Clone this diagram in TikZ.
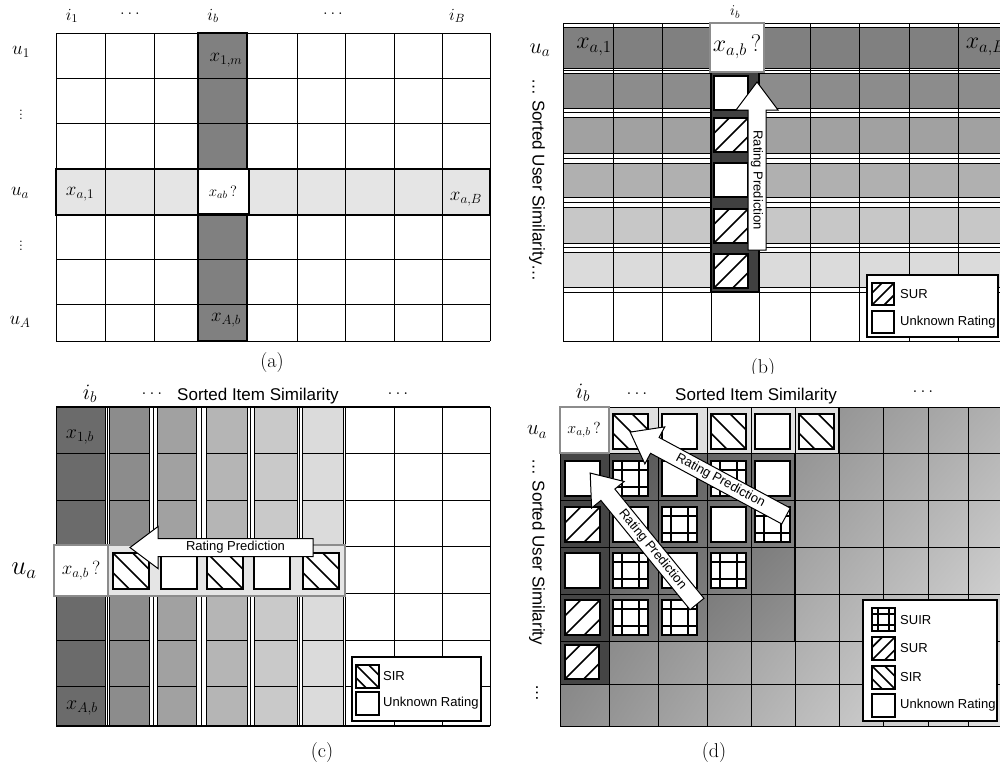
\documentclass[tikz,border=0pt]{standalone}
\usepackage{fix-cm}
\usepackage{fontspec}
\newfontfamily\labelfont{Liberation Sans}
\usetikzlibrary{calc,shadings}

\tikzset{
  gridline/.style={draw=black, line width=1pt},
  boldline/.style={draw=black, line width=2pt},
  sqbox/.style={draw=black, line width=2.2pt},
  hatch/.style={draw=black, line width=1.6pt},
  probebox/.style={fill=white, draw=black!45, line width=2pt},
  legendbox/.style={fill=white, draw=black, line width=1.5pt},
  arrowbox/.style={fill=white, draw=black, line width=1pt},
  arrowtext/.style={font=\fontsize{13}{15}\selectfont\labelfont, inner sep=0pt},
  lgdtext/.style={font=\fontsize{13}{15}\selectfont\labelfont, anchor=west, inner sep=0pt},
  axistext/.style={font=\fontsize{17}{19}\selectfont\labelfont, inner sep=0pt},
  caption/.style={font=\fontsize{20}{22}\selectfont},
}
\newcommand{\msize}[1]{\fontsize{#1}{#1}\selectfont}

% white square: x, y, size
\newcommand{\unksq}[3]{\filldraw[fill=white, sqbox] (#1,#2) rectangle ++(#3,#3);}
% SUR square (/ lines)
\newcommand{\sursq}[3]{%
  \begin{scope}
    \clip (#1,#2) rectangle ++(#3,#3);
    \fill[white] (#1,#2) rectangle ++(#3,#3);
    \foreach \k in {-0.55,0,0.55}
      \draw[hatch] (#1+\k*#3,#2+#3) -- ++(#3,-#3);
  \end{scope}
  \draw[sqbox] (#1,#2) rectangle ++(#3,#3);}
% SIR square (\ lines)
\newcommand{\sirsq}[3]{%
  \begin{scope}
    \clip (#1,#2) rectangle ++(#3,#3);
    \fill[white] (#1,#2) rectangle ++(#3,#3);
    \foreach \k in {-0.55,0,0.55}
      \draw[hatch] (#1+\k*#3,#2) -- ++(#3,#3);
  \end{scope}
  \draw[sqbox] (#1,#2) rectangle ++(#3,#3);}
% SUIR square (grid)
\newcommand{\suirsq}[3]{%
  \fill[white] (#1,#2) rectangle ++(#3,#3);
  \draw[hatch] (#1+0.25*#3,#2) -- ++(0,#3) (#1+0.75*#3,#2) -- ++(0,#3)
               (#1,#2+0.25*#3) -- ++(#3,0) (#1,#2+0.75*#3) -- ++(#3,0);
  \draw[sqbox] (#1,#2) rectangle ++(#3,#3);}
% block arrow: tail, angle, length, text angle, name
\newcommand{\ratearrow}[5]{%
  \begin{scope}[shift={#1}, rotate=#2]
    \filldraw[arrowbox] (0,-9) -- (#3-28,-9) -- (#3-28,-21) -- (#3,0)
      -- (#3-28,21) -- (#3-28,9) -- (0,9) -- cycle;
    \node[arrowtext, rotate=#4] (#5) at ({(#3-28)/2},0) {Rating Prediction};
  \end{scope}}

\begin{document}
\begin{tikzpicture}[x=1pt, y=-1pt]
  \useasboundingbox (0,0) rectangle (1000,772);
  \clip (0,0) rectangle (1000,772);

  % ---------- (a)
  \fill[white!50!black] (198,33) rectangle (247,341);
  \fill[white!90!black] (56,169) rectangle (490,215);
  \foreach \x in {56,105,154,198,247,297,345,394,442,490}
    \draw[gridline] (\x,33) -- (\x,341);
  \foreach \y in {33,78,123,169,215,259,304,341}
    \draw[gridline] (56,\y) -- (490,\y);
  \draw[boldline] (56,169) rectangle (490,215);
  \draw[boldline] (198,33) rectangle (247,341);
  \filldraw[fill=white, boldline] (198,169) rectangle (249,214);

  \node (ai1) at (72,16) {\msize{17}$i_1$};
  \node (adots1) at (130,14) {\msize{17}$\dots$};
  \node (aib) at (213,16) {\msize{17}$i_b$};
  \node (adots2) at (333,14) {\msize{17}$\dots$};
  \node (aiB) at (457,16) {\msize{17}$i_B$};
  \node (au1) at (21,52) {\msize{19}$u_1$};
  \node (avdots1) at (21,112) {\msize{17}$\vdots$};
  \node (aua) at (20,193) {\msize{19}$u_a$};
  \node (avdots2) at (21,243) {\msize{17}$\vdots$};
  \node (auA) at (20,322) {\msize{19}$u_A$};
  \node (ax1m) at (226,60) {\msize{19}$x_{1,m}$};
  \node (axa1) at (80,194) {\msize{19}$x_{a,1}$};
  \node (axab) at (223,192) {\msize{15}$x_{ab}\,?$};
  \node (axaB) at (466,199) {\msize{19}$x_{a,B}$};
  \node (axAb) at (226,320) {\msize{19}$x_{A,b}$};
  \node[caption] (capa) at (272,362) {(a)};

  % ---------- (b)
  \begin{scope}
    \clip (500,0) rectangle (1000,373);
    \foreach \ya/\yb/\g in {27/68/50, 73/108/55, 117/153/63, 163/197/69, 207/243/78, 252/287/86} {
      \fill[white!\g!black] (563,\ya) rectangle (1010,\yb);
      \draw[gridline] (563,\ya) -- (1010,\ya) (563,\yb) -- (1010,\yb);
    }
    \foreach \y in {23,70.5,112.5,158,202,247.5,292,341}
      \draw[gridline] (563,\y) -- (1010,\y);
    \foreach \x in {563,613,662,711,759,810,859,909,958,1008}
      \draw[gridline] (\x,23) -- (\x,341);
    \filldraw[fill=white!25!black, boldline] (711,68) rectangle (759,292);
    \filldraw[probebox] (710,23) rectangle (764,72);
    \unksq{714}{76}{34}
    \sursq{714}{118}{34}
    \unksq{714}{163}{34}
    \sursq{714}{209}{34}
    \sursq{714}{254}{34}
    \ratearrow{(757,250)}{90}{168}{-90}{barrow}

    \filldraw[legendbox] (867,275) rectangle (998,337);
    \sursq{872}{283}{22}
    \unksq{872}{311}{22}
    \node[lgdtext] (bsur) at (900,294) {SUR};
    \node[lgdtext] (bunk) at (900,322) {Unknown Rating};

    \node (bib) at (735,12) {\msize{15}$i_b$};
    \node (bua) at (540,50) {\msize{22}$u_a$};
    \node (bxa1) at (594,47) {\msize{24}$x_{a,1}$};
    \node (bxab) at (737,47) {\msize{24}$x_{a,b}\,?$};
    \node (bxaB) at (986,47) {\msize{24}$x_{a,B}$};
    \node[axistext, rotate=-90] (buser) at (537,180) {\dots\ Sorted User Similarity\dots};
    \node[caption] (capb) at (763,368) {(b)};
  \end{scope}

  % ---------- (c)
  \fill[white!42!black] (56,407) rectangle (105,726);
  \foreach \xa/\xb/\g in {109/149/55, 157/196/63, 206/247/71, 254/297/79, 302/343/86} {
    \fill[white!\g!black] (\xa,407) rectangle (\xb,726);
    \draw[gridline] (\xa,407) rectangle (\xb,726);
    \foreach \y in {453,500,546,593,640,686}
      \draw[gridline] (\xa,\y) -- (\xb,\y);
  }
  \foreach \x in {56,105,107,153,201,250.5,299.5,345,394,442,490}
    \draw[gridline] (\x,407) -- (\x,726);
  \foreach \y in {453,500,546,593,640,686} {
    \draw[gridline] (56,\y) -- (105,\y);
    \draw[gridline] (345,\y) -- (490,\y);
  }
  \draw[boldline] (56,407) -- (490,407) (56,726) -- (490,726);
  \filldraw[fill=white!90!black, draw=black!45, line width=1.5pt] (108,545) rectangle (345,596);
  \filldraw[probebox] (54,545) rectangle (108,596);
  \sirsq{113}{553}{36}
  \unksq{161}{553}{36}
  \sirsq{207}{553}{36}
  \unksq{254}{553}{36}
  \sirsq{303}{553}{36}
  \ratearrow{(313,547.5)}{180}{183}{0}{carrow}

  \filldraw[legendbox] (352,657) rectangle (481,721);
  \sirsq{356}{665}{23}
  \unksq{356}{692}{23}
  \node[lgdtext] (csir) at (383,676) {SIR};
  \node[lgdtext] (cunk) at (383,703) {Unknown Rating};

  \node (cib) at (90,394) {\msize{22}$i_b$};
  \node (cdots1) at (152,394) {\msize{18}$\dots$};
  \node[axistext] (citem) at (258,396) {Sorted Item Similarity};
  \node (cdots2) at (398,394) {\msize{18}$\dots$};
  \node (cua) at (24,571) {\msize{27}$u_a$};
  \node (cx1b) at (80,437) {\msize{20}$x_{1,b}$};
  \node (cxab) at (81,571) {\msize{19}$x_{a,b}\,?$};
  \node (cxAb) at (82,708) {\msize{20}$x_{A,b}$};
  \node[caption] (capc) at (322,752) {(c)};

  % ---------- (d)
  \shade[upper left=white!40!black, upper right=white!70!black,
         lower left=white!55!black, lower right=white!90!black]
    (560,407) rectangle (1010,726);
  \shade[upper left=white!33!black, upper right=white!45!black,
         lower left=white!45!black, lower right=white!58!black]
    (609,453) rectangle (795,641);
  \fill[white!27!black] (560,453) rectangle (609,684);
  \fill[white!88!black] (609,407) rectangle (839,453);
  \foreach \x in {560,609,658,707,751,795,839,883,928,968,1008}
    \draw[gridline] (\x,407) -- (\x,726);
  \foreach \y in {407,453,500,547,594,641,684,726}
    \draw[gridline] (560,\y) -- (1010,\y);
  \draw[boldline] (839,407) -- (839,453) (795,453) -- (795,641);
  \filldraw[probebox] (560,407) rectangle (609,453);

  \sirsq{613}{414}{35}
  \unksq{662}{414}{35}
  \sirsq{711}{414}{35}
  \unksq{755}{414}{35}
  \sirsq{799}{414}{35}
  \unksq{565}{461}{35}
  \sursq{565}{507}{35}
  \unksq{565}{553}{35}
  \sursq{565}{600}{35}
  \sursq{565}{645}{34}
  \suirsq{613}{461}{35}
  \unksq{662}{461}{35}
  \suirsq{711}{461}{35}
  \unksq{755}{461}{35}
  \unksq{613}{507}{35}
  \suirsq{662}{507}{35}
  \unksq{711}{507}{35}
  \suirsq{755}{507}{35}
  \suirsq{613}{553}{35}
  \unksq{662}{553}{35}
  \suirsq{711}{553}{35}
  \suirsq{613}{600}{35}
  \suirsq{662}{600}{35}
  \ratearrow{(786,516)}{151.7}{177}{-28.3}{darrow1}
  \ratearrow{(697,604)}{129.2}{169}{-50.8}{darrow2}

  \filldraw[legendbox] (863,600) rectangle (997,721);
  \suirsq{872}{608}{23}
  \sursq{872}{637}{23}
  \sirsq{872}{666}{23}
  \unksq{872}{694}{23}
  \node[lgdtext] (dsuir) at (900,620) {SUIR};
  \node[lgdtext] (dsur) at (900,648) {SUR};
  \node[lgdtext] (dsir) at (900,677) {SIR};
  \node[lgdtext] (dunk) at (900,705) {Unknown Rating};

  \node (dib) at (583,393) {\msize{22}$i_b$};
  \node (ddots1) at (637,394) {\msize{18}$\dots$};
  \node[axistext] (ditem) at (756,396) {Sorted Item Similarity};
  \node (ddots2) at (923,392) {\msize{18}$\dots$};
  \node (dua) at (537,432) {\msize{21}$u_a$};
  \node (dxab) at (584,430) {\msize{16}$x_{a,b}\,?$};
  \node[axistext, rotate=-90] (duser) at (537,552) {\dots\ Sorted User Similarity};
  \node[axistext, rotate=-90] (ddots3) at (537,693) {\dots};
  \node[caption] (capd) at (714,752) {(d)};
\end{tikzpicture}
\end{document}
